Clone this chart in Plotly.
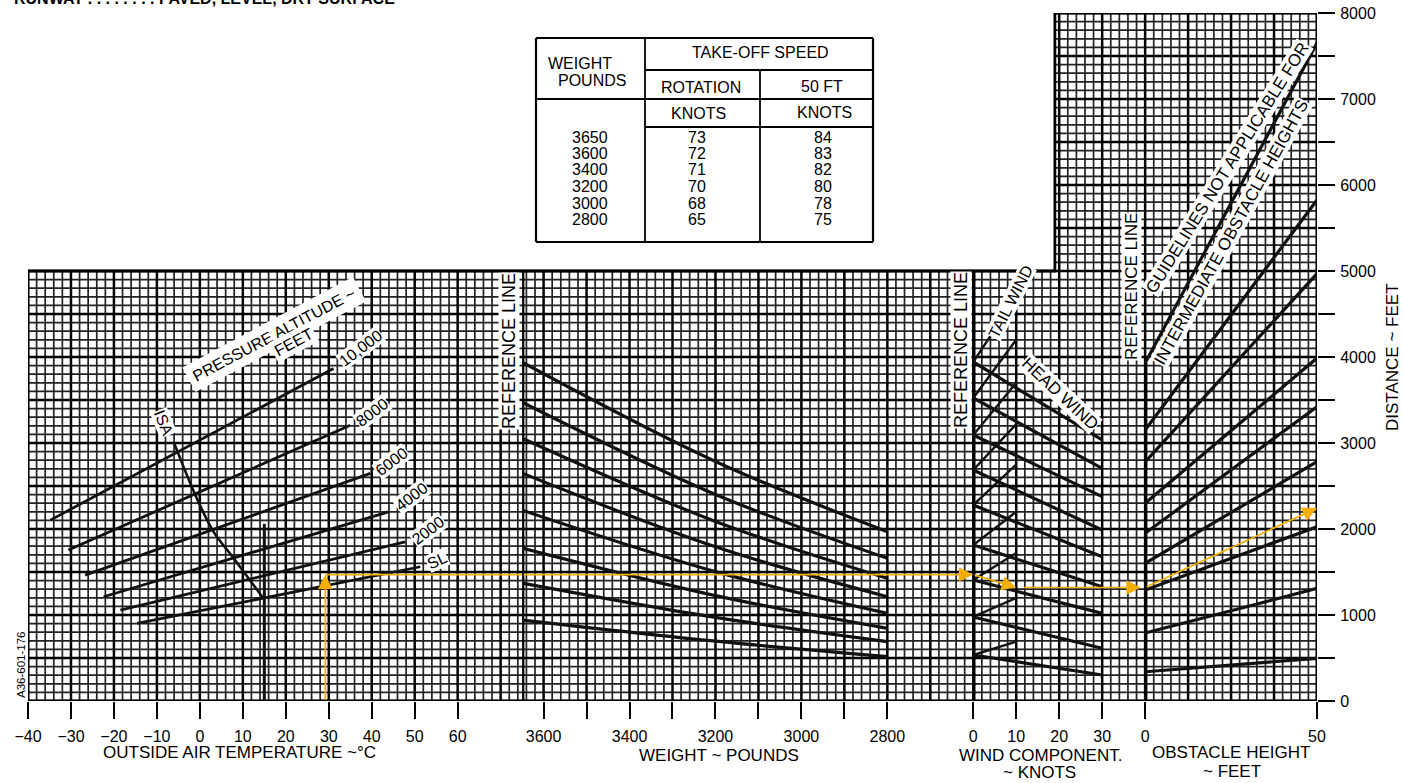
import plotly.graph_objects as go

# ---------------- axis / tick data ----------------
temp_ticks = [-40, -30, -20, -10, 0, 10, 20, 30, 40, 50, 60]
temp_tick_text = ['\u221240', '\u221230', '\u221220', '\u221210', '0', '10', '20', '30', '40', '50', '60']
weight_ticks = [3600, 3500, 3400, 3300, 3200, 3100, 3000, 2900, 2800]
weight_tick_text = ['3600', '', '3400', '', '3200', '', '3000', '', '2800']
wind_ticks = [0, 10, 20, 30]
obstacle_ticks = [0, 50]
distance_ticks = [0, 500, 1000, 1500, 2000, 2500, 3000, 3500, 4000, 4500, 5000, 5500, 6000, 6500, 7000, 7500, 8000]
distance_tick_text = ['0', '', '1000', '', '2000', '', '3000', '', '4000', '', '5000', '', '6000', '', '7000', '', '8000']

# ---------------- take-off speed table ----------------
table_weight = [3650, 3600, 3400, 3200, 3000, 2800]
table_rotation = [73, 72, 71, 70, 68, 65]
table_50ft = [84, 83, 82, 80, 78, 75]

# ---------------- pressure altitude lines (deg C, ft) ----------------
alt_names = ['10,000', '8000', '6000', '4000', '2000', 'SL']
alt_temp_start = [-34.8, -30.6, -26.7, -22.4, -18.5, -14.6]
alt_dist_start = [2103, 1755, 1464, 1212, 1057, 903]
alt_temp_end = [31.1, 35.0, 39.7, 43.9, 47.8, 51.3]
alt_dist_end = [3866, 3207, 2646, 2200, 1851, 1561]

isa_temp = [-6.1, -0.7, 3.2, 7.9, 14.8]
isa_dist = [3013, 2355, 1967, 1658, 1193]

std_temp = 15
std_dist = [0, 2060]

# ---------------- weight guide lines (lb, ft) ----------------
weight_pts = [3650, 3200, 2800]
weight_guides = [
    [3939, 2785, 1969],
    [3474, 2401, 1659],
    [3056, 2088, 1427],
    [2649, 1793, 1213],
    [2219, 1504, 1019],
    [1778, 1225, 845],
    [1371, 972, 690],
    [941, 696, 516],
]

# ---------------- wind guide lines (kt, ft) ----------------
head_pts = [0, 30]
head_guides = [
    [3942, 3035], [3523, 2706], [3093, 2376], [2686, 1988], [2279, 1678],
    [1814, 1329], [1407, 1019], [977, 613], [535, 302],
]
tail_pts = [0, 10]
tail_guides = [
    [3942, 4700], [3523, 4200], [3093, 3700], [2686, 3220], [2279, 2750],
    [1814, 2200], [1407, 1720], [977, 1200], [535, 690],
]

# ---------------- obstacle guide lines (ft, ft) ----------------
obst_pts = [0, 50]
obst_guides = [
    [3930, 7650], [3150, 5826], [2780, 4970], [2300, 3988], [1950, 3422],
    [1600, 2783], [1290, 2027], [790, 1310], [340, 496],
]

# ---------------- example (orange) ----------------
ex_temp = 29.2
ex_dist_1 = 1470
ex_wind = 10
ex_wind_restart = 11.5
ex_wind_end = 40
ex_dist_2 = 1320
ex_obstacle = 50
ex_dist_3 = 2243

# ======================================================================
INK = '#111111'
ORANGE = '#F4AE00'
FONT = 'Liberation Sans'
ML, MR, MT, MB = 28, 86, 13, 82
W, H = 1403, 783
PW, PH = W - ML - MR, H - MT - MB


def px(x):
    return (x - ML) / PW


def py(y):
    return (H - MB - y) / PH


fig = go.Figure()

# ---- graph paper grid (1 unit = 2 degC = 20 lb = 2 kt = 2.5 ft obstacle) ----
mnx, mny, mjx, mjy = [], [], [], []
for u in range(0, 151):
    top = 8000 if u >= 120 else 5000
    if u % 5 == 0:
        mjx += [u, u, None]; mjy += [0, top, None]
    else:
        mnx += [u, u, None]; mny += [0, top, None]
for k in range(0, 81):
    yv = k * 100
    x0 = 0 if yv <= 5000 else 119.5
    if k % 5 == 0:
        mjx += [x0, 150, None]; mjy += [yv, yv, None]
    else:
        mnx += [x0, 150, None]; mny += [yv, yv, None]
fig.add_trace(go.Scatter(x=mnx, y=mny, mode='lines', line=dict(color='#222', width=1.7),
                         xaxis='x', yaxis='y', hoverinfo='skip', showlegend=False))
fig.add_trace(go.Scatter(x=mjx, y=mjy, mode='lines', line=dict(color='#000', width=2.5),
                         xaxis='x', yaxis='y', hoverinfo='skip', showlegend=False))
fig.add_trace(go.Scatter(x=[0, 0, 119.5, 119.5, 150, 150, 0], y=[0, 5000, 5000, 8000, 8000, 0, 0],
                         mode='lines', line=dict(color='#000', width=2.8), xaxis='x', yaxis='y',
                         hoverinfo='skip', showlegend=False))

LINE = dict(color=INK, width=3.2)

# ---- temperature / altitude panel ----
for i in range(len(alt_names)):
    fig.add_trace(go.Scatter(x=[alt_temp_start[i], alt_temp_end[i]], y=[alt_dist_start[i], alt_dist_end[i]],
                             mode='lines', line=dict(color=INK, width=2.8), xaxis='x2', yaxis='y',
                             showlegend=False, hoverinfo='skip'))
fig.add_trace(go.Scatter(x=isa_temp, y=isa_dist, mode='lines', line=dict(color=INK, width=2.6, shape='spline'),
                         xaxis='x2', yaxis='y', showlegend=False, hoverinfo='skip'))
fig.add_trace(go.Scatter(x=[std_temp, std_temp], y=std_dist, mode='lines', line=dict(color=INK, width=3),
                         xaxis='x2', yaxis='y', showlegend=False, hoverinfo='skip'))

# ---- weight panel ----
fig.add_trace(go.Scatter(x=[3650, 3650], y=[0, 5000], mode='lines', line=dict(color='#000', width=4.5),
                         xaxis='x3', yaxis='y', showlegend=False, hoverinfo='skip'))
for g in weight_guides:
    fig.add_trace(go.Scatter(x=weight_pts, y=g, mode='lines', line=dict(LINE, shape='spline'),
                             xaxis='x3', yaxis='y', showlegend=False, hoverinfo='skip'))

# ---- wind panel ----
fig.add_trace(go.Scatter(x=[0, 0], y=[0, 5000], mode='lines', line=dict(color='#000', width=4.5),
                         xaxis='x4', yaxis='y', showlegend=False, hoverinfo='skip'))
for g in head_guides:
    fig.add_trace(go.Scatter(x=head_pts, y=g, mode='lines', line=LINE,
                             xaxis='x4', yaxis='y', showlegend=False, hoverinfo='skip'))
for g in tail_guides:
    fig.add_trace(go.Scatter(x=tail_pts, y=g, mode='lines', line=dict(color=INK, width=2.4),
                             xaxis='x4', yaxis='y', showlegend=False, hoverinfo='skip'))

# ---- obstacle panel ----
fig.add_trace(go.Scatter(x=[0, 0], y=[0, obst_guides[0][0]], mode='lines', line=dict(color='#000', width=4.5),
                         xaxis='x5', yaxis='y', showlegend=False, hoverinfo='skip'))
for g in obst_guides:
    fig.add_trace(go.Scatter(x=obst_pts, y=g, mode='lines', line=LINE,
                             xaxis='x5', yaxis='y', showlegend=False, hoverinfo='skip'))

# ---- orange worked example: plain segment + arrows drawn on the data axes ----
fig.add_trace(go.Scatter(x=[ex_temp, 75], y=[ex_dist_1, ex_dist_1], mode='lines',
                         line=dict(color=ORANGE, width=1.7),
                         xaxis='x2', yaxis='y', showlegend=False, hoverinfo='skip'))

ann = []


def arrow(xr, x_tail, y_tail, x_head, y_head):
    ann.append(dict(xref=xr, yref='y', axref=xr, ayref='y', x=x_head, y=y_head, ax=x_tail, ay=y_tail,
                    showarrow=True, arrowhead=2, arrowsize=1.7, arrowwidth=1.7, arrowcolor=ORANGE,
                    text='', standoff=0))


arrow('x2', ex_temp, 0, ex_temp, ex_dist_1)
arrow('x3', 3650, ex_dist_1, 2600, ex_dist_1)
arrow('x4', 0, ex_dist_1, ex_wind, ex_dist_2)
arrow('x4', ex_wind_restart, ex_dist_2, ex_wind_end - 1, ex_dist_2)
arrow('x5', 0, ex_dist_2, ex_obstacle, ex_dist_3)

# ---- axes ----
TF = dict(family=FONT, size=16, color='#000')
common_x = dict(anchor='y', showgrid=False, zeroline=False, showline=False, ticks='outside',
                ticklen=17, tickwidth=1.8, tickcolor='#000', tickfont=TF, fixedrange=True,
                ticklabelstandoff=4)
fig.update_layout(
    xaxis=dict(domain=[0, 1], range=[0, 150], visible=False, fixedrange=True),
    xaxis2=dict(common_x, domain=[0, 57.5 / 150], range=[-40, 75], tickvals=temp_ticks, ticktext=temp_tick_text),
    xaxis3=dict(common_x, domain=[57.5 / 150, 110 / 150], range=[3650, 2600], tickvals=weight_ticks,
                ticktext=weight_tick_text),
    xaxis4=dict(common_x, domain=[110 / 150, 130 / 150], range=[0, 40], tickvals=wind_ticks,
                ticktext=[str(v) for v in wind_ticks]),
    xaxis5=dict(common_x, domain=[130 / 150, 1], range=[0, 50], tickvals=obstacle_ticks,
                ticktext=[str(v) for v in obstacle_ticks]),
    yaxis=dict(domain=[0, 1], range=[0, 8000], anchor='x', side='right', showgrid=False, zeroline=False,
               showline=False, ticks='outside', ticklen=17, tickwidth=1.8, tickcolor='#000',
               tickvals=distance_ticks, ticktext=distance_tick_text, tickfont=TF, fixedrange=True,
               ticklabelstandoff=2),
    width=W, height=H, margin=dict(l=ML, r=MR, t=MT, b=MB, autoexpand=False),
    paper_bgcolor='white', plot_bgcolor='rgba(0,0,0,0)', showlegend=False,
    font=dict(family=FONT, color='#000'),
)


def text(x, y, s, size=16, angle=0, bg=None, **kw):
    d = dict(x=px(x), y=py(y), xref='paper', yref='paper', text=s, showarrow=False,
             font=dict(family=FONT, size=size, color='#000'), textangle=angle,
             xanchor='center', yanchor='middle')
    if bg:
        d['bgcolor'] = bg
    d.update(kw)
    ann.append(d)


# axis titles
text(239, 753, 'OUTSIDE AIR TEMPERATURE ~\u00b0C', 17)
text(719, 755, 'WEIGHT ~ POUNDS', 17)
text(1040, 755, 'WIND COMPONENT.', 17)
text(1039, 772, '~ KNOTS', 17)
text(1231, 753, 'OBSTACLE HEIGHT', 17)
text(1232, 771, '~ FEET', 17)
text(1392, 357, 'DISTANCE ~ FEET', 17, -90)
ann.append(dict(x=px(12), y=py(-1), xref='paper', yref='paper', showarrow=False,
                text='<b>RUNWAY . . . . . . . . PAVED, LEVEL, DRY SURFACE</b>',
                font=dict(family=FONT, size=16, color='#000'), xanchor='left', yanchor='middle'))
text(21, 665, 'A36-601-176', 11.5, -90)

# panel labels
text(274, 334, 'PRESSURE ALTITUDE ~', 16, -28, 'white', borderpad=5)
text(293, 342, 'FEET', 16, -28, 'white', borderpad=2)
label_pos = [(360, 348), (372, 412), (392, 462), (412, 497), (428, 530), (437, 560)]
for nm, (lx, ly) in zip(alt_names, label_pos):
    text(lx, ly, nm, 16, -25 if nm == 'SL' else -37, 'white', borderpad=0)
text(163, 423, 'ISA', 16, 68, 'white', borderpad=0)
text(509, 351, 'REFERENCE LINE', 18, -90, 'white', borderpad=0)
text(961, 350, 'REFERENCE LINE', 18, -90, 'white', borderpad=0)
text(1131, 287, 'REFERENCE LINE', 17, -90, 'white', borderpad=0)
text(1010, 302, 'TAIL WIND', 16, -63, 'white', borderpad=0)
text(1060, 393, 'HEAD WIND', 17, 43, 'white', borderpad=0)
text(1228, 168, 'GUIDELINES NOT APPLICABLE FOR', 17, -58, 'white', borderpad=0)
text(1231, 232, 'INTERMEDIATE OBSTACLE HEIGHTS', 17, -61, 'white', borderpad=0)

# take-off speed table
shapes = []


def seg(x0, y0, x1, y1, w=1.8):
    shapes.append(dict(type='line', xref='paper', yref='paper', x0=px(x0), y0=py(y0), x1=px(x1), y1=py(y1),
                       line=dict(color='#000', width=w)))


seg(536, 38, 873, 38, 2.2); seg(536, 242, 873, 242, 2.2)
seg(536, 38, 536, 242, 2.2); seg(873, 38, 873, 242, 2.2)
seg(645, 38, 645, 242); seg(760, 70, 760, 242)
seg(645, 70, 873, 70); seg(536, 99, 873, 99); seg(645, 127, 873, 127)
text(580, 63, 'WEIGHT', 16)
text(592, 81, 'POUNDS', 16)
text(760, 53, 'TAKE-OFF SPEED', 16)
text(701, 88, 'ROTATION', 16)
text(822, 87, '50 FT', 16)
text(698, 113, 'KNOTS', 16)
text(824, 112, 'KNOTS', 16)
row_y = [137, 153.5, 170, 186.5, 203, 219.5]
for i in range(len(table_weight)):
    text(590, row_y[i], str(table_weight[i]), 16)
    text(697, row_y[i], str(table_rotation[i]), 16)
    text(823, row_y[i], str(table_50ft[i]), 16)

fig.update_layout(annotations=ann, shapes=shapes)
fig.write_html('out.html', config={'displayModeBar': False},
               post_script="document.body.style.margin='0px';document.body.style.overflow='hidden';")
